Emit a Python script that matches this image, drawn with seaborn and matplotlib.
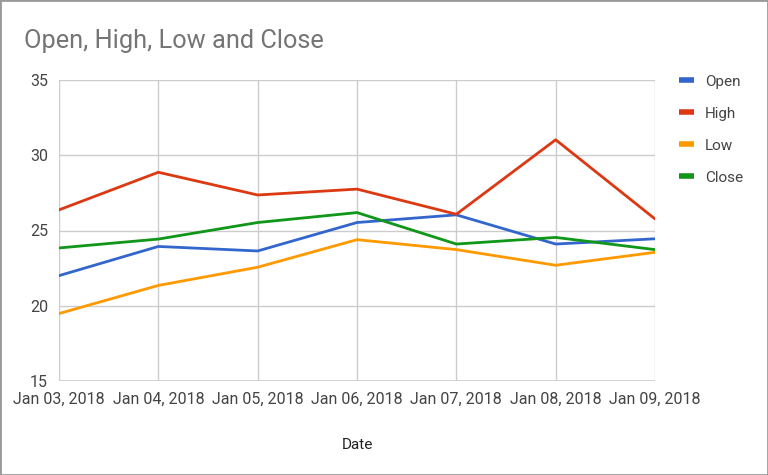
import matplotlib
matplotlib.use("Agg")
import matplotlib.pyplot as plt
import seaborn as sns
import pandas as pd
from matplotlib.patches import Rectangle
from matplotlib.lines import Line2D

dates = ["Jan 03, 2018", "Jan 04, 2018", "Jan 05, 2018", "Jan 06, 2018",
         "Jan 07, 2018", "Jan 08, 2018", "Jan 09, 2018"]
open_vals = [22.0, 23.94, 23.64, 25.53, 26.04, 24.1, 24.45]
high_vals = [26.37, 28.87, 27.36, 27.75, 26.08, 31.03, 25.77]
low_vals = [19.48, 21.35, 22.56, 24.39, 23.73, 22.69, 23.55]
close_vals = [23.84, 24.43, 25.53, 26.19, 24.1, 24.54, 23.73]

series_names = ["Open", "High", "Low", "Close"]
colors = ["#3366cc", "#dc3912", "#ff9900", "#109618"]

rows = []
for name, vals in zip(series_names, [open_vals, high_vals, low_vals, close_vals]):
    for i, (d, v) in enumerate(zip(dates, vals)):
        rows.append({"idx": i, "Date": d, "Value": v, "Series": name})
df = pd.DataFrame(rows)

sns.set_theme(style="white")
plt.rcParams["font.family"] = ["Roboto", "DejaVu Sans"]

fig = plt.figure(figsize=(7.68, 4.75), dpi=100)
W, H = 768, 475
ax = fig.add_axes([59 / W, 1 - 381 / H, (655 - 59) / W, (381 - 80) / H])

sns.lineplot(data=df, x="idx", y="Value", hue="Series", hue_order=series_names,
             palette=colors, linewidth=2, ax=ax, legend=False, sort=False)

ax.set_xlim(0, len(dates) - 1)
ax.set_ylim(15, 35)
ax.set_yticks([15, 20, 25, 30, 35])
ax.set_xticks(range(len(dates)))
ax.set_xticklabels(dates)
ax.tick_params(axis="both", length=0, labelsize=11.5, labelcolor="#444444")
ax.tick_params(axis="x", pad=8)
ax.tick_params(axis="y", pad=8)
ax.grid(True, color="#cccccc", linewidth=1)
for s in ax.spines.values():
    s.set_visible(False)
ax.axhline(15, color="#333333", linewidth=1, zorder=0.5)
ax.set_ylabel("")
ax.set_xlabel("Date", fontsize=11, color="#222222", labelpad=22)

fig.text(24 / W, 1 - 41 / H, "Open, High, Low and Close", fontsize=18.3,
         color="#757575", ha="left", va="center")

handles = [Line2D([0], [0], color=c, linewidth=4, solid_capstyle="butt") for c in colors]
leg = fig.legend(handles, series_names, loc="upper left",
                 bbox_to_anchor=(665 / W, 1 - 61 / H), frameon=False,
                 handlelength=1.0, handletextpad=0.7, labelspacing=1.18,
                 fontsize=11, labelcolor="#444444")

fig.patches.append(Rectangle((0, 0), 1, 1, transform=fig.transFigure,
                             fill=False, edgecolor="#999999", linewidth=2))

fig.savefig("out.png", dpi=100)
